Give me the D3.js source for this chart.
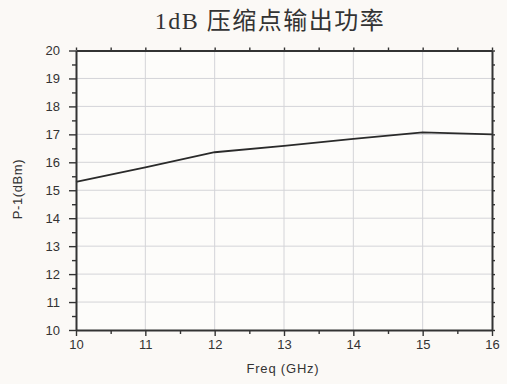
<!DOCTYPE html>
<html>
<head>
<meta charset="utf-8">
<script src="https://cdn.jsdelivr.net/npm/d3@7"></script>
<style>
  html, body { margin: 0; padding: 0; background: #fbf9f6; }
  svg { display: block; }
</style>
</head>
<body>
<svg id="chart" width="507" height="384"></svg>
<script>
// Output power at 1 dB compression versus frequency
const freqGHz = [10, 11, 12, 13, 14, 15, 16];
const p1dBm = [15.3, 15.82, 16.36, 16.59, 16.84, 17.07, 17.0];
const xTicks = [10, 11, 12, 13, 14, 15, 16];
const yTicks = [10, 11, 12, 13, 14, 15, 16, 17, 18, 19, 20];

const svg = d3.select("#chart");
const W = 507, H = 384;
const m = { left: 76, right: 15, top: 50.5, bottom: 54 };
const x = d3.scaleLinear().domain([10, 16]).range([m.left, W - m.right]);
const y = d3.scaleLinear().domain([10, 20]).range([H - m.bottom, m.top]);

svg.append("rect").attr("width", W).attr("height", H).attr("fill", "#fbf9f6");
svg.append("rect")
  .attr("x", x(10)).attr("y", y(20))
  .attr("width", x(16) - x(10)).attr("height", y(10) - y(20))
  .attr("fill", "#fdfcfa");

// grid
const grid = svg.append("g").attr("stroke", "#d4d4d8").attr("stroke-width", 1);
grid.selectAll(".gx").data(xTicks.slice(1, -1)).join("line")
  .attr("x1", d => x(d)).attr("x2", d => x(d))
  .attr("y1", y(10)).attr("y2", y(20));
grid.selectAll(".gy").data(yTicks.slice(1, -1)).join("line")
  .attr("x1", x(10)).attr("x2", x(16))
  .attr("y1", d => y(d)).attr("y2", d => y(d));

// data line
const line = d3.line().x((d, i) => x(freqGHz[i])).y(d => y(d));
svg.append("path").datum(p1dBm)
  .attr("d", line)
  .attr("fill", "none")
  .attr("stroke", "#2a2a2a")
  .attr("stroke-width", 1.8);

// axes: major ticks carry labels, minor ticks at the half steps
const minorX = d3.range(10.5, 16, 1);
const minorY = d3.range(10.5, 20, 1);
function styleAxis(g) {
  g.selectAll(".domain").attr("stroke", "#333").attr("stroke-width", 2);
  g.selectAll(".tick line").attr("stroke", "#333").attr("stroke-width", 1.4);
  g.selectAll(".tick text")
    .attr("fill", "#333")
    .attr("font-family", "Liberation Sans, Arial, sans-serif")
    .attr("font-size", 13);
}
const fmt = d3.format("d");
// bottom
const gb = svg.append("g").attr("transform", `translate(0,${y(10)})`);
gb.call(d3.axisBottom(x).tickValues(xTicks).tickSize(6).tickSizeOuter(0).tickPadding(4).tickFormat(fmt))
  .call(styleAxis);
svg.append("g").attr("transform", `translate(0,${y(10)})`)
  .call(d3.axisBottom(x).tickValues(minorX).tickSize(4).tickFormat(""))
  .call(styleAxis).call(g => g.select(".domain").remove());
// left
svg.append("g").attr("transform", `translate(${x(10)},0)`)
  .call(d3.axisLeft(y).tickValues(yTicks).tickSize(7).tickSizeOuter(0).tickPadding(9).tickFormat(fmt))
  .call(styleAxis);
svg.append("g").attr("transform", `translate(${x(10)},0)`)
  .call(d3.axisLeft(y).tickValues(minorY).tickSize(4).tickFormat(""))
  .call(styleAxis).call(g => g.select(".domain").remove());
// top
svg.append("g").attr("transform", `translate(0,${y(20)})`)
  .call(d3.axisTop(x).tickValues(xTicks.concat(minorX)).tickSize(3).tickSizeOuter(0).tickFormat(""))
  .call(styleAxis);
// right
svg.append("g").attr("transform", `translate(${x(16)},0)`)
  .call(d3.axisRight(y).tickValues(yTicks.concat(minorY)).tickSize(3).tickSizeOuter(0).tickFormat(""))
  .call(styleAxis);

// titles
svg.append("text")
  .attr("x", 270).attr("y", 29)
  .attr("text-anchor", "middle")
  .attr("font-family", "Liberation Serif, 'Noto Sans CJK SC', serif")
  .attr("font-size", 24)
  .attr("letter-spacing", 1.5)
  .attr("fill", "#333")
  .text("1dB 压缩点输出功率");

svg.append("text")
  .attr("x", 283).attr("y", 373)
  .attr("text-anchor", "middle")
  .attr("font-family", "Liberation Sans, Arial, sans-serif")
  .attr("font-size", 13)
  .attr("letter-spacing", 0.8)
  .attr("fill", "#333")
  .text("Freq (GHz)");

svg.append("text")
  .attr("transform", `translate(22,189) rotate(-90)`)
  .attr("text-anchor", "middle")
  .attr("font-family", "Liberation Sans, Arial, sans-serif")
  .attr("font-size", 13)
  .attr("letter-spacing", 0.6)
  .attr("fill", "#333")
  .text("P-1(dBm)");
</script>
</body>
</html>
